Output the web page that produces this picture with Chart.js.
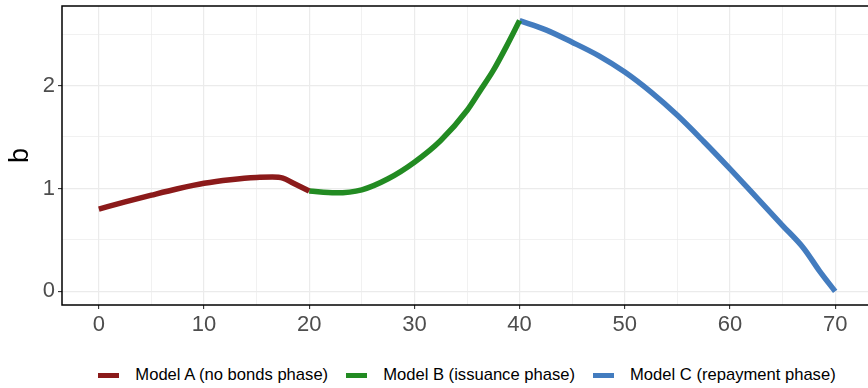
<!DOCTYPE html>
<html lang="en">
<head>
    <meta charset="UTF-8">
    <title>b by model phase</title>
    <script src="https://cdn.jsdelivr.net/npm/chart.js"></script>
    <style>
        body { margin: 0; width: 868px; height: 388px; overflow: hidden; background: #fff; position: relative; font-family: "Liberation Sans", Arial, sans-serif; }
        #wrap { position: absolute; left: 0; top: 0; width: 880px; height: 340px; }
        #legend { position: absolute; left: 0; top: 365px; width: 934px; display: flex; justify-content: center; align-items: center; font-size: 16.6px; color: #000; }
        #legend .item { display: flex; align-items: center; margin-right: 18px; }
        #legend .item:last-child { margin-right: 0; }
        #legend .key { width: 21px; height: 5px; margin-right: 16px; }
    </style>
</head>
<body>
    <div id="wrap"><canvas id="chart" width="880" height="340"></canvas></div>
    <div id="legend"></div>

    <script>
        // series
        const labels = ["Model A (no bonds phase)", "Model B (issuance phase)", "Model C (repayment phase)"];
        const colors = ["#8B1A1A", "#228B22", "#437CBF"];

        const xA = [0, 2.5, 5, 7.5, 10, 12.5, 15, 16.5, 17.5, 18.5, 20];
        const yA = [0.80, 0.87, 0.935, 0.997, 1.05, 1.085, 1.107, 1.11, 1.10, 1.05, 0.975];

        const xB = [20, 22.5, 25, 27.5, 30, 32.5, 35, 36.25, 37.5, 38.75, 40];
        const yB = [0.975, 0.958, 0.987, 1.094, 1.255, 1.466, 1.757, 1.95, 2.146, 2.38, 2.63];

        const xC = [40, 42.5, 45, 47.5, 50, 52.5, 55, 57.5, 60, 62.5, 65, 67, 68.5, 70];
        const yC = [2.63, 2.54, 2.42, 2.29, 2.13, 1.935, 1.71, 1.456, 1.19, 0.915, 0.64, 0.42, 0.20, 0.0];

        const xTicks = [0, 5, 10, 15, 20, 25, 30, 35, 40, 45, 50, 55, 60, 65, 70];
        const yTicks = [0, 0.5, 1, 1.5, 2, 2.5];

        const xs = [xA, xB, xC];
        const ys = [yA, yB, yC];

        const datasets = labels.map((lab, i) => ({
            label: lab,
            data: xs[i].map((x, j) => ({ x: x, y: ys[i][j] })),
            borderColor: colors[i],
            backgroundColor: colors[i],
            borderWidth: 5.5,
            borderCapStyle: "butt",
            pointRadius: 0,
            cubicInterpolationMode: "monotone",
            fill: false
        }));

        // panel border drawn on top, like ggplot's theme_bw
        const panelBorder = {
            id: "panelBorder",
            afterDraw(chart) {
                const a = chart.chartArea;
                const ctx = chart.ctx;
                ctx.save();
                ctx.strokeStyle = "#000";
                ctx.lineWidth = 1.5;
                ctx.strokeRect(a.left, a.top, a.right - a.left, a.bottom - a.top);
                ctx.restore();
            }
        };

        const isMajorX = v => v % 10 === 0;
        const isMajorY = v => v % 1 === 0;

        new Chart(document.getElementById("chart").getContext("2d"), {
            type: "line",
            data: { datasets: datasets },
            plugins: [panelBorder],
            options: {
                responsive: false,
                animation: false,
                devicePixelRatio: 1,
                layout: { padding: { top: 6, right: 8, left: 0, bottom: 0 } },
                plugins: { legend: { display: false }, tooltip: { enabled: false } },
                scales: {
                    x: {
                        type: "linear",
                        min: -3.5,
                        max: 73.5,
                        afterBuildTicks: s => { s.ticks = xTicks.map(v => ({ value: v })); },
                        afterFit: s => { s.height = 35; s.paddingLeft = 0; s.paddingRight = 0; },
                        border: { display: false },
                        grid: {
                            color: c => "#EBEBEB",
                            lineWidth: c => isMajorX(c.tick.value) ? 1.2 : 0.7,
                            tickColor: c => isMajorX(c.tick.value) ? "#333333" : "rgba(0,0,0,0)",
                            tickLength: 4,
                            tickWidth: 1.1
                        },
                        ticks: {
                            autoSkip: false,
                            maxRotation: 0,
                            padding: 3,
                            color: "#4D4D4D",
                            font: { family: "Liberation Sans", size: 22 },
                            callback: v => isMajorX(v) ? String(v) : ""
                        }
                    },
                    y: {
                        type: "linear",
                        min: -0.132,
                        max: 2.772,
                        afterBuildTicks: s => { s.ticks = yTicks.map(v => ({ value: v })); },
                        afterFit: s => { s.width = 62; s.paddingTop = 0; s.paddingBottom = 0; },
                        border: { display: false },
                        grid: {
                            color: c => "#EBEBEB",
                            lineWidth: c => isMajorY(c.tick.value) ? 1.2 : 0.7,
                            tickColor: c => isMajorY(c.tick.value) ? "#333333" : "rgba(0,0,0,0)",
                            tickLength: 4,
                            tickWidth: 1.1
                        },
                        ticks: {
                            autoSkip: false,
                            padding: 3,
                            color: "#4D4D4D",
                            font: { family: "Liberation Sans", size: 22 },
                            callback: v => isMajorY(v) ? String(v) : ""
                        },
                        title: {
                            display: true,
                            text: "b",
                            color: "#000",
                            font: { family: "Liberation Sans", size: 27 },
                            padding: { top: 4, bottom: 0 }
                        }
                    }
                }
            }
        });

        // legend below the panel
        const legend = document.getElementById("legend");
        labels.forEach((lab, i) => {
            const item = document.createElement("div");
            item.className = "item";
            const key = document.createElement("span");
            key.className = "key";
            key.style.background = colors[i];
            const txt = document.createElement("span");
            txt.textContent = lab;
            item.appendChild(key);
            item.appendChild(txt);
            legend.appendChild(item);
        });
    </script>
</body>
</html>
